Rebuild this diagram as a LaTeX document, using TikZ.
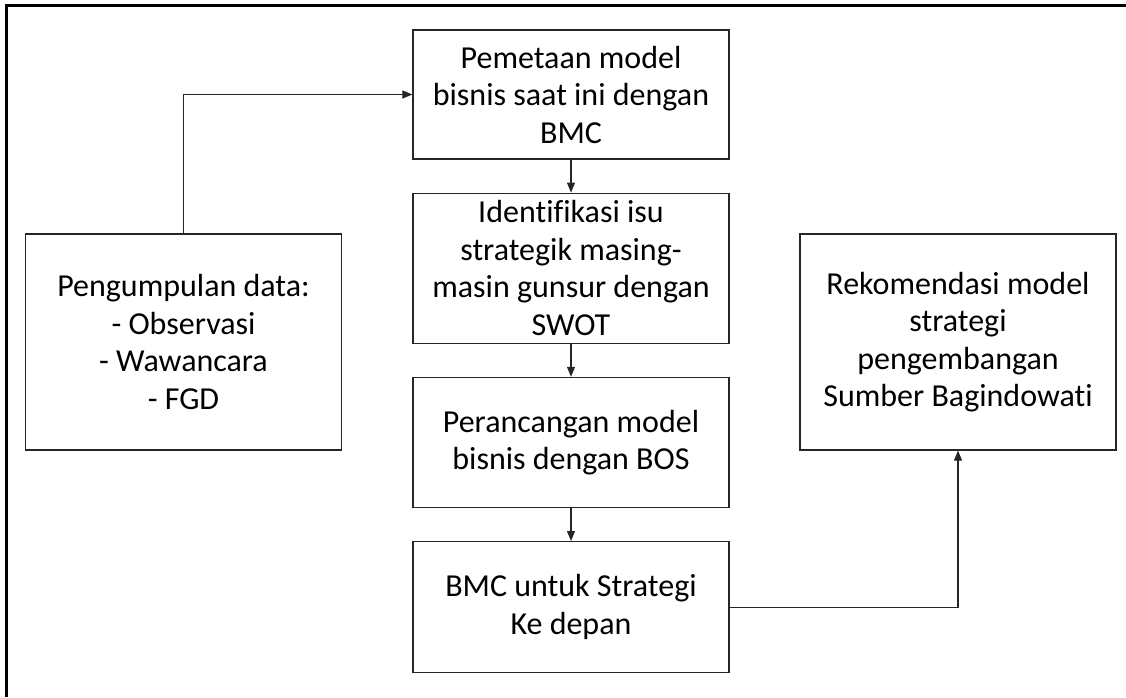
\documentclass[tikz,border=0pt]{standalone}
\usepackage{fontspec}
\setmainfont{Carlito}[Ligatures=NoCommon]
\usepackage{tikz}
\usetikzlibrary{arrows.meta, positioning}
\tikzset{
	stepbox/.style ={rectangle, draw=black!85, line width=1.2pt, minimum width=316pt, align=center, inner sep=2pt, font=\fontsize{32}{37.5}\selectfont},
	sidebox/.style ={stepbox, minimum height=216pt},
	flowarrow/.style={-{Triangle[length=10pt, width=8pt]}, line width=1.1pt, black!85},
}
\begin{document}
\begin{tikzpicture}[x=1pt, y=-1pt, node distance=33pt]
	\useasboundingbox (0,0) rectangle (1126,697);
	% frame of the cropped page
	\draw[line width=2.5pt] (6.5,697) -- (6.5,5.5) -- (1126,5.5);
	% middle column
	\node[stepbox, minimum height=129pt] (pem) at (571,94.5) {Pemetaan model\\bisnis saat ini dengan\\BMC};
	\node[stepbox, minimum height=150pt, below=of pem] (ide) {Identifikasi isu\\strategik masing-\\masin gunsur dengan\\SWOT};
	\node[stepbox, minimum height=130pt, below=of ide] (per) {Perancangan model\\bisnis dengan BOS};
	\node[stepbox, minimum height=131pt, below=of per] (bmc) {BMC untuk Strategi\\Ke depan};
	% side boxes
	\node[sidebox] (pgd) at (183.5,342) {Pengumpulan data:\\- Observasi\\- Wawancara\\- FGD};
	\node[sidebox] (rek) at (958,342) {Rekomendasi model\\strategi\\pengembangan\\Sumber Bagindowati};
	\draw[flowarrow] (pem) -- (ide);
	\draw[flowarrow] (ide) -- (per);
	\draw[flowarrow] (per) -- (bmc);
	\draw[flowarrow] (pgd.north) |- (pem.west);
	\draw[flowarrow] (bmc.east) -| (rek.south);
\end{tikzpicture}
\end{document}
